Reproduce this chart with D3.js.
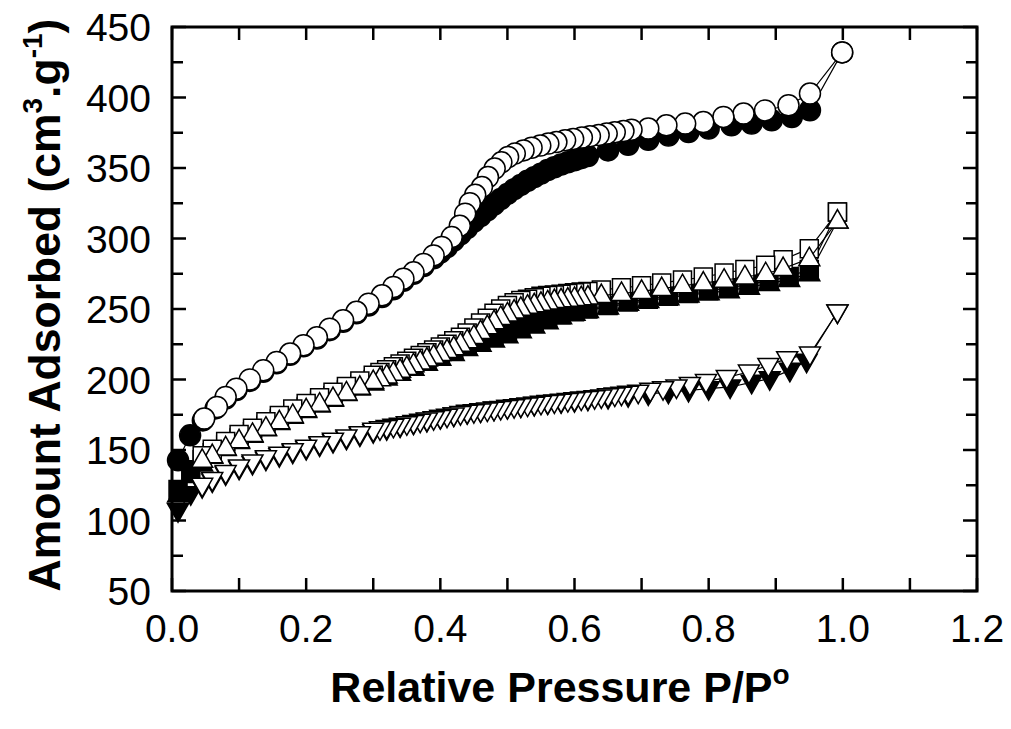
<!DOCTYPE html>
<html><head><meta charset="utf-8">
<script src="https://cdn.jsdelivr.net/npm/d3@7"></script>
<style>
html,body{margin:0;padding:0;background:#fff;}
svg{display:block;font-family:"Liberation Sans",Arial,sans-serif;}
</style></head>
<body>
<svg id="chart" width="1011" height="729"></svg>
<script>
// ---------- data (P/Po, cm3/g) ----------
const circleAds = [[0.009,142.7],[0.027,160.4],[0.046,171],[0.065,179.5],[0.08,186.5],[0.096,192.5],[0.116,199],[0.136,205.5],[0.156,211.5],[0.176,217.5],[0.196,223.5],[0.216,229],[0.235,235],[0.255,241],[0.275,247],[0.293,252.5],[0.313,258.5],[0.33,264],[0.345,270],[0.36,275],[0.375,280.5],[0.39,286],[0.40,290],[0.41,294],[0.42,298.5],[0.43,303],[0.44,307.5],[0.45,312],[0.46,316],[0.47,320],[0.48,324],[0.49,328],[0.50,331.5],[0.51,335],[0.52,338],[0.53,341],[0.54,343.5],[0.55,346],[0.56,348.5],[0.57,350.5],[0.58,352.5],[0.59,354],[0.60,355.5],[0.61,357],[0.62,358.5],[0.65,362.5],[0.68,366.5],[0.71,370],[0.74,373],[0.77,375.5],[0.80,378],[0.834,380.3],[0.864,381.5],[0.894,383.8],[0.924,386.2],[0.951,391],[0.999,432]];
const circleDes = [[0.999,432],[0.951,402.8],[0.919,394.5],[0.884,390.8],[0.852,388.6],[0.822,386.2],[0.792,382.6],[0.765,381.5],[0.737,380.3],[0.71,378],[0.685,377.2],[0.673,376.2],[0.66,375.3],[0.648,374.4],[0.636,373.4],[0.623,372.5],[0.611,371.6],[0.598,370.6],[0.586,369.6],[0.573,368.4],[0.561,367.3],[0.549,365.9],[0.536,364.4],[0.524,362.5],[0.511,360.2],[0.501,357.8],[0.491,354],[0.481,349.6],[0.471,343.6],[0.462,336.5],[0.452,331],[0.444,325],[0.437,317.6],[0.429,309],[0.417,301],[0.402,294],[0.39,288],[0.375,282],[0.36,276],[0.345,271.5],[0.33,265.6],[0.313,259.7],[0.293,253.8],[0.275,248],[0.255,242],[0.235,236],[0.216,230],[0.196,224.3],[0.176,218.4],[0.156,212.4],[0.136,206.5],[0.116,200],[0.096,193.5],[0.08,187.6],[0.067,180.5],[0.048,172.3]];
const squareAds = [[0.009,122],[0.028,136],[0.045,143],[0.06,148],[0.08,153.5],[0.10,158.5],[0.12,163],[0.14,167.5],[0.16,172],[0.18,176.5],[0.20,180.5],[0.22,184.5],[0.24,188.5],[0.26,192.5],[0.28,196.5],[0.30,200],[0.32,203.5],[0.34,207],[0.36,210.5],[0.38,214],[0.40,217.5],[0.42,221],[0.44,224.5],[0.46,228],[0.48,231.5],[0.50,235],[0.52,238],[0.54,241],[0.56,243.5],[0.58,246],[0.60,248],[0.62,250],[0.65,252.5],[0.68,255],[0.71,257],[0.74,259],[0.77,261],[0.80,263],[0.83,265],[0.86,267.5],[0.89,270],[0.92,273],[0.95,278],[0.992,318.8]];
const squareDes = [[0.992,318.8],[0.95,292.8],[0.911,285],[0.885,281],[0.854,278],[0.823,275.5],[0.792,272.7],[0.761,270.5],[0.73,268.5],[0.70,266.5],[0.67,265],[0.64,263.5],[0.62,262.5],[0.61,262],[0.60,261.5],[0.59,261],[0.58,260.5],[0.57,260],[0.56,259.5],[0.55,259],[0.54,258],[0.53,257],[0.52,256],[0.51,254.5],[0.50,252.5],[0.49,250],[0.48,247],[0.47,243.5],[0.46,240],[0.45,236.5],[0.44,233],[0.43,230],[0.42,227.5],[0.41,225],[0.40,223],[0.39,221],[0.38,219],[0.37,217],[0.36,215],[0.35,213],[0.34,211],[0.33,209],[0.32,207],[0.31,205],[0.30,203],[0.28,199],[0.26,195],[0.24,191],[0.22,187],[0.20,183],[0.18,179],[0.16,174.5],[0.14,170],[0.12,165.5],[0.10,161],[0.08,156],[0.06,150.5],[0.045,146]];
const triUpAds = [[0.009,118],[0.028,132],[0.045,140],[0.06,145.5],[0.08,151],[0.10,156],[0.12,160.5],[0.14,165],[0.16,169.5],[0.18,174],[0.20,178],[0.22,182],[0.24,186],[0.26,190],[0.28,194],[0.30,197.5],[0.32,201],[0.34,204.5],[0.36,208],[0.38,211.5],[0.40,215],[0.42,218.5],[0.44,222],[0.46,225],[0.48,228],[0.50,231],[0.52,234.5],[0.54,238],[0.56,241],[0.58,244.5],[0.60,247],[0.62,249],[0.65,251.5],[0.68,254],[0.71,256],[0.74,258],[0.77,260],[0.80,261.5],[0.83,263],[0.86,265.5],[0.89,268],[0.92,271],[0.95,275],[0.992,312.4]];
const triUpDes = [[0.992,312.4],[0.95,285.7],[0.911,278.7],[0.885,275],[0.854,272.7],[0.823,270.4],[0.792,268.4],[0.761,266.5],[0.73,264.5],[0.70,262.5],[0.67,261],[0.64,259.5],[0.62,258.5],[0.61,258],[0.60,257.5],[0.59,257],[0.58,256.5],[0.57,256],[0.56,255],[0.55,254],[0.54,253],[0.53,252],[0.52,250.5],[0.51,248.5],[0.50,246.5],[0.49,244],[0.48,241],[0.47,237.5],[0.46,234],[0.45,230.5],[0.44,227.5],[0.43,225],[0.42,222.5],[0.41,220.5],[0.40,218.5],[0.39,216.5],[0.38,214.5],[0.37,212.5],[0.36,210.5],[0.35,208.5],[0.34,206.5],[0.33,204.5],[0.32,202.5],[0.31,200.5],[0.30,198.5],[0.28,194.5],[0.26,190.5],[0.24,186.5],[0.22,182.5],[0.20,178.5],[0.18,174.5],[0.16,170],[0.14,165.5],[0.12,161],[0.10,156.5],[0.08,151.5],[0.06,146],[0.045,142.7]];
const triDownAds = [[0.009,107],[0.028,119],[0.045,124],[0.06,128],[0.08,133],[0.10,137],[0.12,140.5],[0.14,143.5],[0.16,146],[0.18,148.5],[0.20,151],[0.22,153.5],[0.24,156],[0.26,158.3],[0.28,160.6],[0.30,163],[0.32,165],[0.34,167],[0.36,169],[0.38,171],[0.40,173],[0.42,174.8],[0.44,176.4],[0.46,177.8],[0.48,179],[0.50,180.2],[0.52,181.3],[0.54,182.3],[0.56,183.3],[0.58,184.2],[0.60,185],[0.62,186],[0.65,187.2],[0.68,188.5],[0.71,189.8],[0.74,191],[0.77,192.2],[0.80,193.5],[0.832,194.7],[0.864,198],[0.891,200.6],[0.921,206.5],[0.946,213],[0.992,247.9]];
const triDownDes = [[0.992,247.9],[0.951,218],[0.917,214.8],[0.889,210],[0.86,205.3],[0.827,201.5],[0.796,198.5],[0.772,196.5],[0.752,194.7],[0.732,193.5],[0.713,192.3],[0.695,191],[0.68,190.2],[0.67,189.6],[0.66,189],[0.65,188.4],[0.64,187.6],[0.63,187.1],[0.62,186.6],[0.61,186.1],[0.60,185.6],[0.59,185.1],[0.58,184.6],[0.57,184.1],[0.56,183.6],[0.55,183.1],[0.54,182.5],[0.53,181.9],[0.52,181.3],[0.51,180.7],[0.50,180.1],[0.49,179.5],[0.48,178.9],[0.47,178.3],[0.46,177.7],[0.45,177.2],[0.44,176.7],[0.43,175.8],[0.42,174.9],[0.41,174],[0.40,173.1],[0.39,172.2],[0.38,171.3],[0.37,170.4],[0.36,169.5],[0.35,168.6],[0.34,167.6],[0.33,166.8],[0.32,166],[0.31,165],[0.30,164],[0.28,161.6],[0.26,159.3],[0.24,157],[0.22,154.5],[0.20,152],[0.18,149.5],[0.16,147],[0.14,144.5],[0.12,141.5],[0.10,138],[0.08,134],[0.06,129],[0.045,125]];

const xTicks = [0.0,0.2,0.4,0.6,0.8,1.0,1.2];
const yTicks = [50,100,150,200,250,300,350,400,450];
const xTitle = "Relative Pressure P/P";
const xTitleSup = "o";

// ---------- layout ----------
const svg = d3.select("#chart");
const L = 172, R = 977, T = 27, B = 591;
const x = d3.scaleLinear().domain([0,1.2]).range([L,R]);
const y = d3.scaleLinear().domain([50,450]).range([B,T]);

function markerPath(kind){
  if(kind==="circle"){ const r=10.5; return `M${-r},0A${r},${r} 0 1,0 ${r},0A${r},${r} 0 1,0 ${-r},0Z`; }
  if(kind==="square"){ const s=9; return `M${-s},${-s}H${s}V${s}H${-s}Z`; }
  if(kind==="up"){ return "M0,-11.5L10.5,7L-10.5,7Z"; }
  if(kind==="down"){ return "M0,11.5L10.5,-7L-10.5,-7Z"; }
}

const line = d3.line().x(d=>x(d[0])).y(d=>y(d[1]));

const series = [
  {data:circleAds, kind:"circle", fill:"#000"},
  {data:squareAds, kind:"square", fill:"#000"},
  {data:triUpAds, kind:"up", fill:"#000"},
  {data:triDownAds, kind:"down", fill:"#000"},
  {data:circleDes, kind:"circle", fill:"#fff"},
  {data:squareDes, kind:"square", fill:"#fff"},
  {data:triUpDes, kind:"up", fill:"#fff"},
  {data:triDownDes, kind:"down", fill:"#fff"}
];

const plot = svg.append("g");
series.forEach(s=>{
  const g = plot.append("g");
  g.append("path").attr("d", line(s.data)).attr("fill","none").attr("stroke","#000").attr("stroke-width",1.2);
  g.selectAll("path.m").data(s.data).enter().append("path").attr("class","m")
    .attr("d", markerPath(s.kind))
    .attr("transform", d=>`translate(${x(d[0])},${y(d[1])})`)
    .attr("fill", s.fill).attr("stroke","#000").attr("stroke-width",1.5);
});

// ---------- axes ----------
const axG = svg.append("g");
const xMinor = d3.range(0,1.2001,0.1);
const yMinor = d3.range(50,450.001,25);
axG.selectAll("line.xb").data(xMinor).enter().append("line")
  .attr("x1",d=>x(d)).attr("x2",d=>x(d)).attr("y1",B).attr("y2",B-13)
  .attr("stroke","#000").attr("stroke-width",2.5);
axG.selectAll("line.xt").data(xMinor).enter().append("line")
  .attr("x1",d=>x(d)).attr("x2",d=>x(d)).attr("y1",T).attr("y2",T+13)
  .attr("stroke","#000").attr("stroke-width",2.5);
axG.selectAll("line.yl").data(yMinor).enter().append("line")
  .attr("x1",L).attr("x2",d=>L+((d%50===0)?14:11)).attr("y1",d=>y(d)).attr("y2",d=>y(d))
  .attr("stroke","#000").attr("stroke-width",2.5);
axG.selectAll("line.yr").data(yMinor).enter().append("line")
  .attr("x1",R).attr("x2",d=>R-((d%50===0)?14:11)).attr("y1",d=>y(d)).attr("y2",d=>y(d))
  .attr("stroke","#000").attr("stroke-width",2.5);
axG.append("rect").attr("x",L).attr("y",T).attr("width",R-L).attr("height",B-T)
  .attr("fill","none").attr("stroke","#000").attr("stroke-width",3);

axG.selectAll("text.xl").data(xTicks).enter().append("text")
  .attr("x",d=>x(d)).attr("y",642).attr("text-anchor","middle")
  .attr("font-size",39).text(d=>d.toFixed(1));
axG.selectAll("text.yl").data(yTicks).enter().append("text")
  .attr("x",151).attr("y",d=>y(d)+14).attr("text-anchor","end")
  .attr("font-size",39).text(d=>d);

const xt = svg.append("text").attr("x",560).attr("y",702).attr("text-anchor","middle")
  .attr("font-size",43).attr("font-weight","bold");
xt.append("tspan").text(xTitle);
xt.append("tspan").attr("dy",-18).attr("font-size",28).text(xTitleSup);

const yt = svg.append("text").attr("transform","translate(60,305) rotate(-90)")
  .attr("text-anchor","middle").attr("font-size",44.5).attr("font-weight","bold");
yt.append("tspan").text("Amount Adsorbed (cm");
yt.append("tspan").attr("dy",-18).attr("font-size",28).text("3");
yt.append("tspan").attr("dy",18).text(".g");
yt.append("tspan").attr("dy",-18).attr("font-size",28).text("-1");
yt.append("tspan").attr("dy",18).text(")");
</script>
</body></html>
